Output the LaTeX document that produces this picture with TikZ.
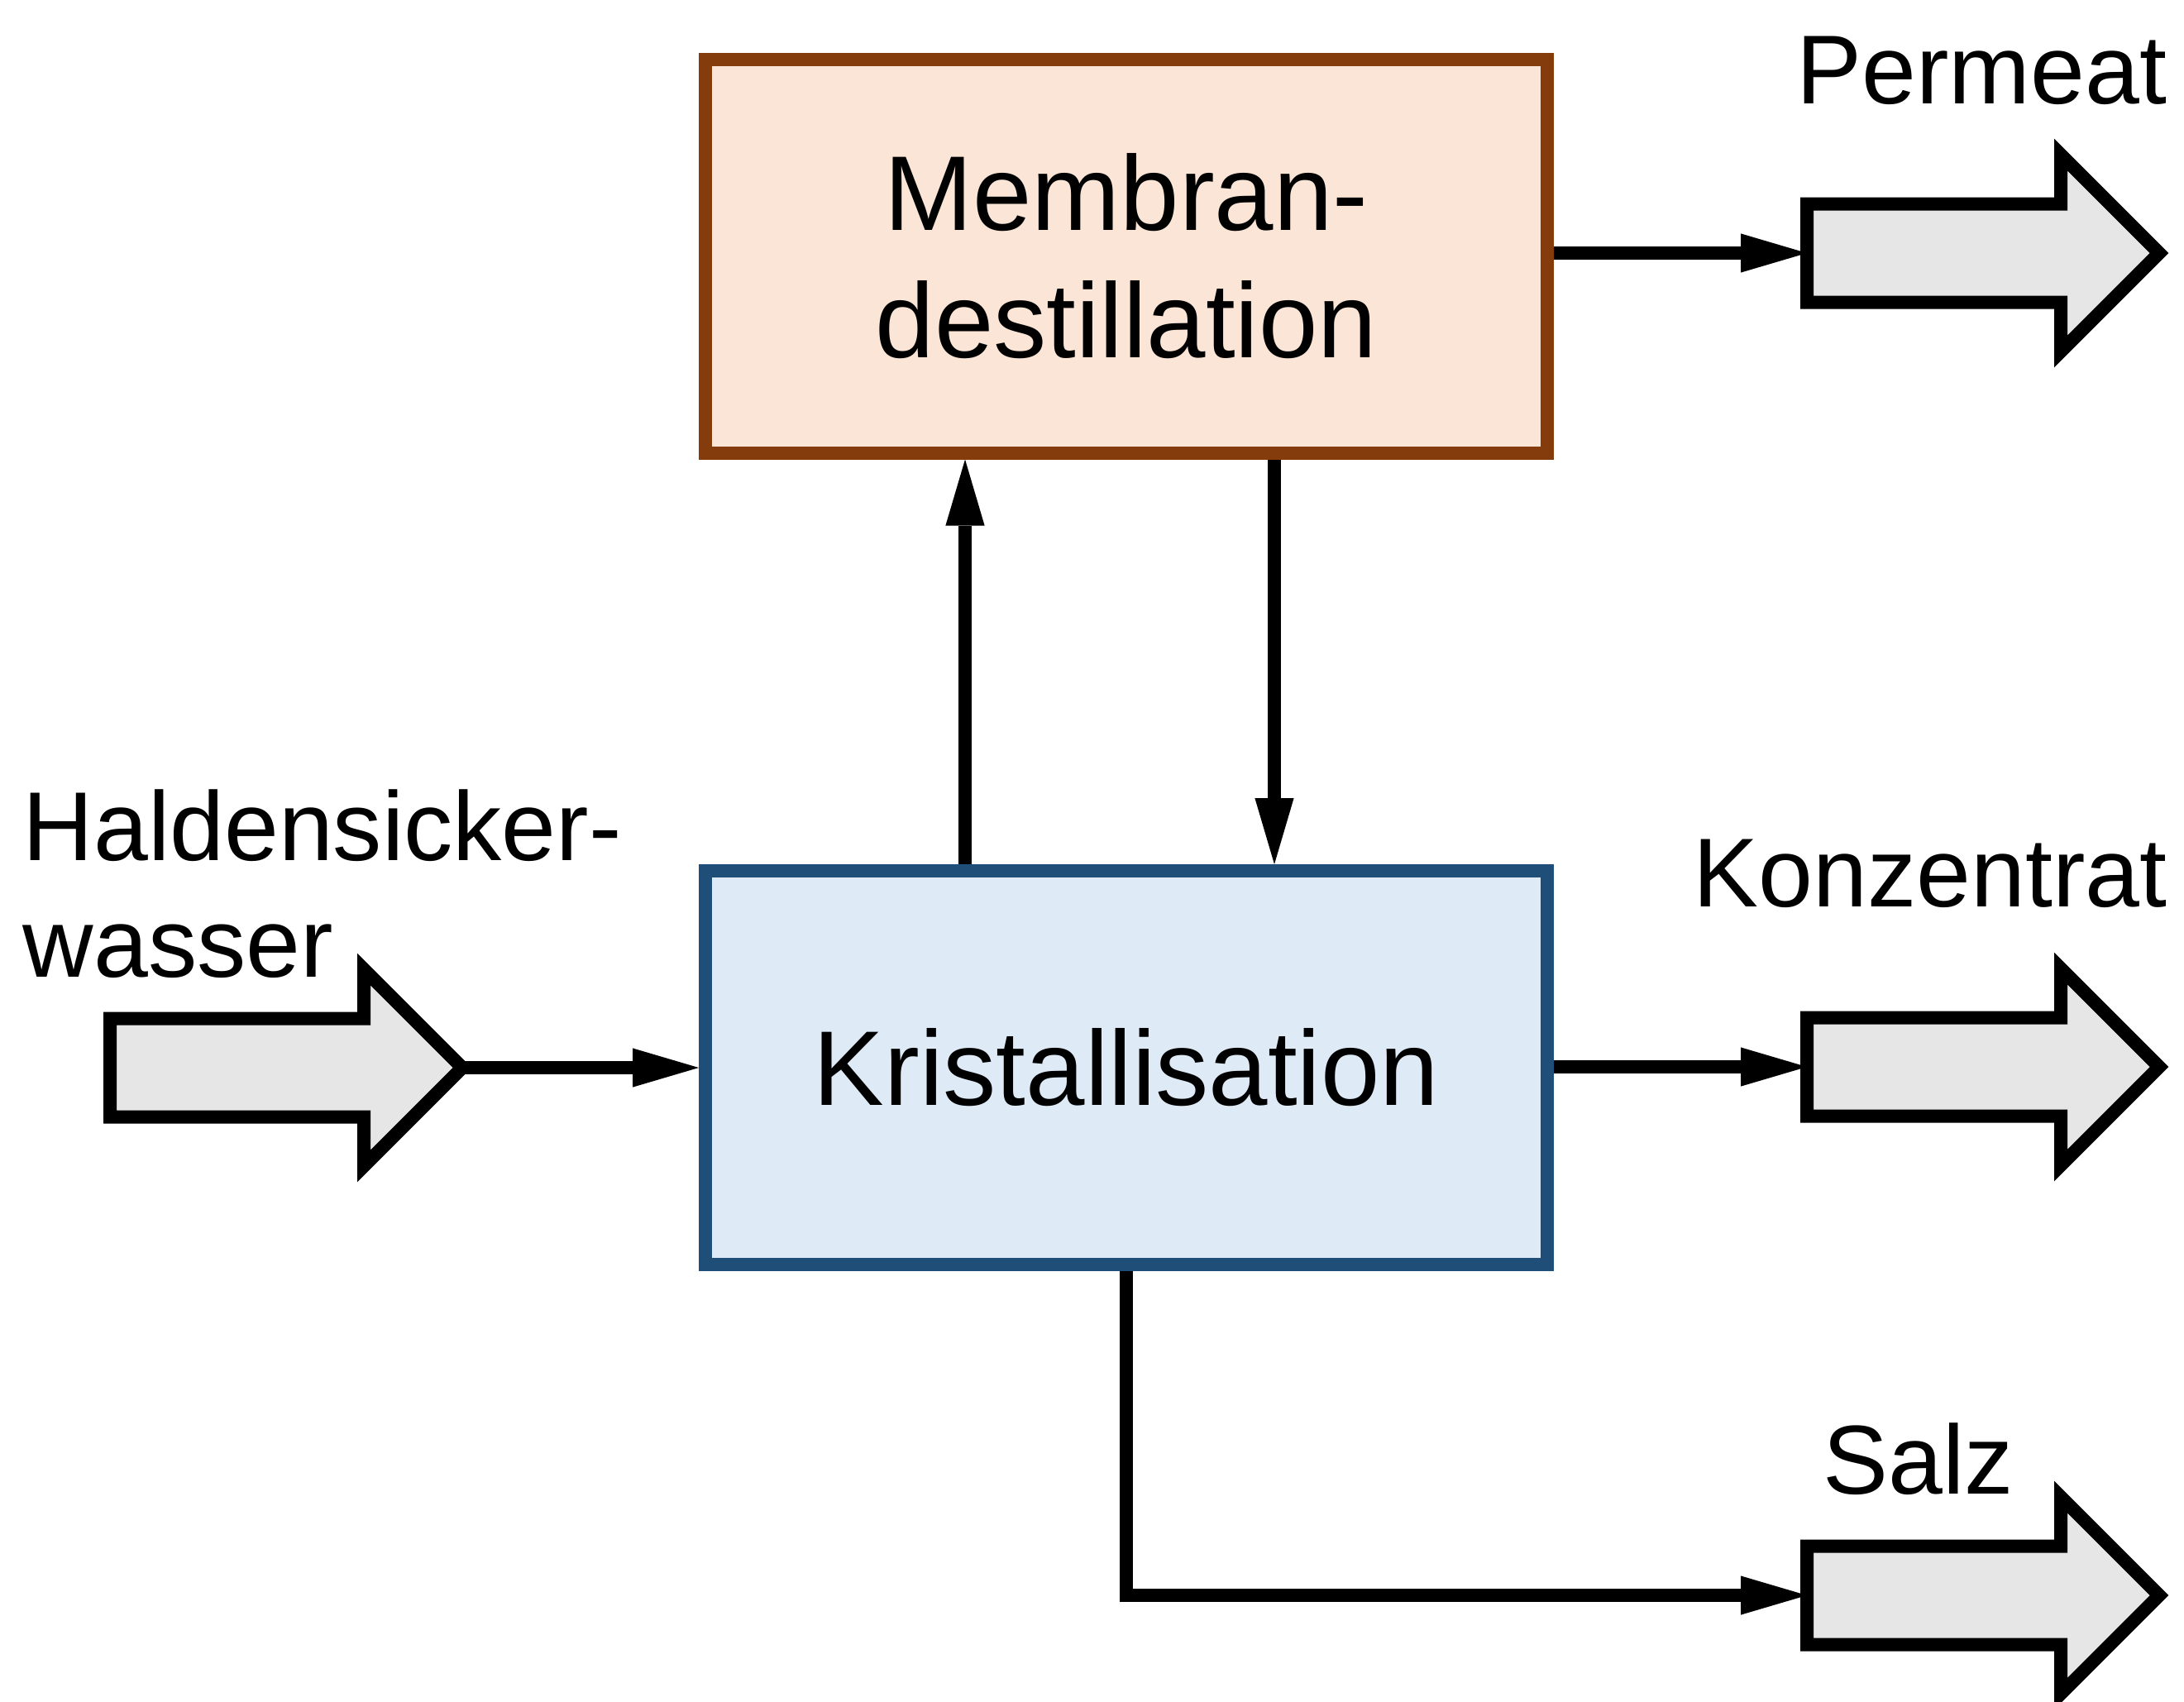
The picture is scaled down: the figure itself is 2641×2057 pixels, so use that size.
\documentclass[tikz,border=0pt]{standalone}
\usepackage{fontspec}
\setmainfont{Liberation Sans}
\usetikzlibrary{arrows.meta,calc}
\definecolor{mdfill}{HTML}{FBE5D6}
\definecolor{mdline}{HTML}{843C0C}
\definecolor{krfill}{HTML}{DEEBF7}
\definecolor{krline}{HTML}{1F4E79}
\definecolor{bafill}{HTML}{E6E6E6}
\begin{document}
\begin{tikzpicture}[x=0.25pt,y=-0.25pt,
  procbox/.style={rectangle, line width=4pt, minimum width=254.5pt, minimum height=119pt,
    inner sep=0pt, align=center, font=\fontsize{32.1pt}{38.5pt}\selectfont},
  conn/.style={line width=4pt, -{Triangle[length=20pt,width=11.8pt,line width=0pt]}},
  flowlabel/.style={font=\fontsize{29.6pt}{35.25pt}\selectfont, inner sep=0pt},
  blockarrow/.style={line width=4pt, fill=bafill, draw=black, line join=miter},
  blockarr/.pic={\draw[blockarrow] (0,-59.5) -- (307,-59.5) -- (307,-119) -- (426,0)
      -- (307,119) -- (307,59.5) -- (0,59.5) -- cycle;}]
\useasboundingbox (0,0) rectangle (2641,2057);
\fill[white] (0,0) rectangle (2641,2057);

% process boxes
\node[procbox, draw=mdline, fill=mdfill] (memb) at (1362,309.5) {Membran-\\destillation};
\node[procbox, draw=krline, fill=krfill] (kris) at (1362,1291) {Kristallisation};

% connector end points (block arrows)
\coordinate (hout) at (559,1291);
\coordinate (permin) at (2185,306);
\coordinate (konzin) at (2185,1290);
\coordinate (salzin) at (2185,1929);

% connectors
\draw[conn] (hout) -- (kris.west |- hout);
\draw[conn] ($(kris.north)+(-195,0)$) -- ($(memb.south)+(-195,0)$);
\draw[conn] ($(memb.south)+(179,0)$) -- ($(kris.north)+(179,0)$);
\draw[conn] (memb.east |- permin) -- (permin);
\draw[conn] (kris.east |- konzin) -- (konzin);
\draw[conn] (kris.south) |- (salzin);

% block arrows
\pic at (133,1291) {blockarr};
\pic at (permin) {blockarr};
\pic at (konzin) {blockarr};
\pic at (salzin) {blockarr};

% labels
\node[flowlabel, anchor=base west, align=left] (lhald) at (27,1181.7) {Haldensicker-\\wasser};
\node[flowlabel, anchor=base east] (lperm) at (2621,125.3) {Permeat};
\node[flowlabel, anchor=base east] (lkonz) at (2621,1096.7) {Konzentrat};
\node[flowlabel, anchor=base] (lsalz) at (2319.5,1806.7) {Salz};
\end{tikzpicture}
\end{document}
